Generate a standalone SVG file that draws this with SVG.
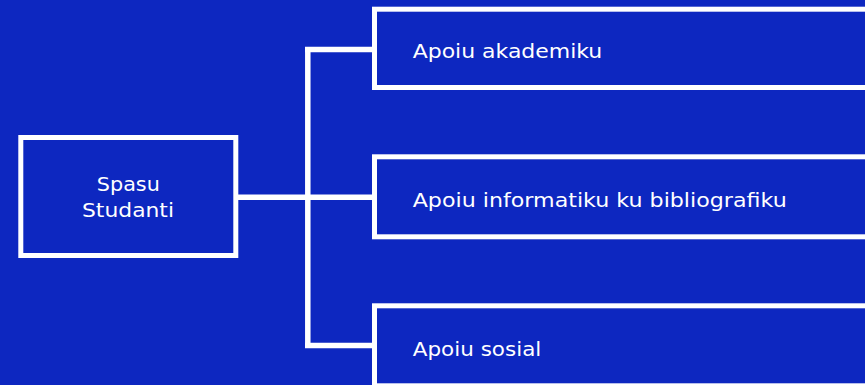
<svg xmlns="http://www.w3.org/2000/svg" width="865" height="385" viewBox="0 0 865 385">
<style>
.box{fill:#0D27C0;stroke:#FFFFFF;stroke-width:5}
.conn{fill:none;stroke:#FFFFFF;stroke-width:5.5}
.t{font-family:"DejaVu Sans","Open Sans",sans-serif;font-size:19.5px;fill:#FFFFFF}
</style>
<rect x="0" y="0" width="865" height="385" fill="#0D27C0"/>
<g id="connectors">
<path class="conn" d="M238,197.3 H372"/>
<path class="conn" d="M307.8,49.5 V345.5"/>
<path class="conn" d="M305,49.5 H372"/>
<path class="conn" d="M305,345.5 H372"/>
</g>
<g id="spasu-studanti">
<rect class="box" x="20.8" y="137.5" width="215" height="118"/>
<text class="t" x="128.3" y="191" text-anchor="middle" textLength="63" lengthAdjust="spacingAndGlyphs">Spasu</text>
<text class="t" x="128" y="217" text-anchor="middle" textLength="92" lengthAdjust="spacingAndGlyphs">Studanti</text>
</g>
<g id="apoiu-akademiku">
<rect class="box" x="374.5" y="9.2" width="520" height="78.3"/>
<text class="t" x="412.7" y="58.3" textLength="189.6" lengthAdjust="spacingAndGlyphs">Apoiu akademiku</text>
</g>
<g id="apoiu-informatiku">
<rect class="box" x="374.5" y="156.8" width="520" height="80"/>
<text class="t" x="412.7" y="206.7" textLength="374" lengthAdjust="spacingAndGlyphs">Apoiu informatiku ku bibliografiku</text>
</g>
<g id="apoiu-sosial">
<rect class="box" x="374.5" y="305.8" width="520" height="80"/>
<text class="t" x="412.8" y="356" textLength="128.5" lengthAdjust="spacingAndGlyphs">Apoiu sosial</text>
</g>
</svg>
